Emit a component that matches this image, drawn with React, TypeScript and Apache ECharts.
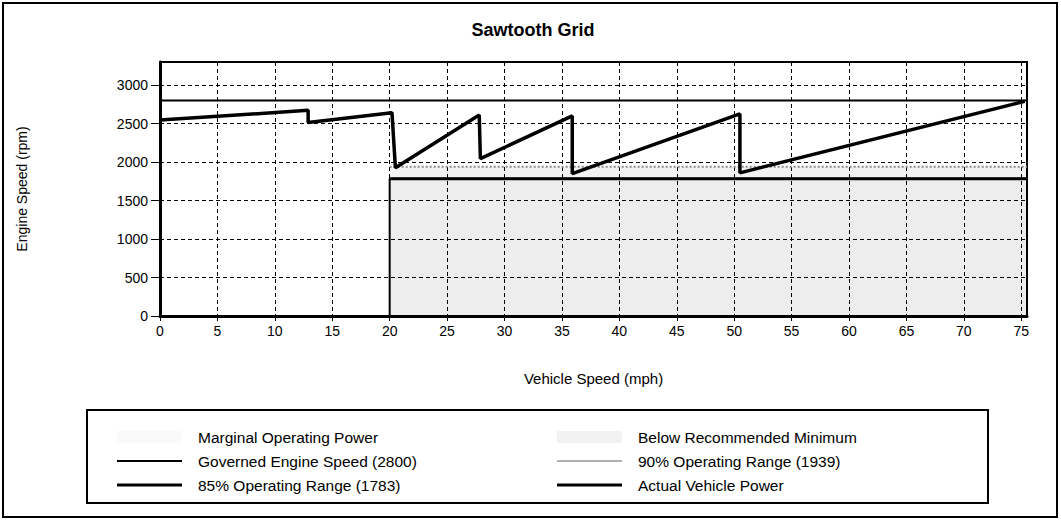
import React, { useEffect, useRef } from "react";
import * as echarts from "echarts";

// Actual vehicle power (sawtooth): vehicle speed (mph) vs engine speed (rpm)
const speedMph = [0, 12.9, 12.9, 20.2, 20.5, 27.8, 27.9, 35.9, 35.9, 50.5, 50.5, 75.3];
const engineRpm = [2545, 2672, 2515, 2642, 1925, 2612, 2045, 2600, 1850, 2625, 1860, 2790];

// Reference levels
const governedRpm = 2800;
const range90Rpm = 1939;
const range85Rpm = 1783;
const rangeStartMph = 20;

// Axis extents / ticks
const speedMin = 0;
const speedMax = 75.5;
const speedStep = 5;
const rpmMin = 0;
const rpmMax = 3300;
const rpmStep = 500;

const legendLeft = [
  "Marginal Operating Power",
  "Governed Engine Speed (2800)",
  "85% Operating Range (1783)",
];
const legendRight = [
  "Below Recommended Minimum",
  "90% Operating Range (1939)",
  "Actual Vehicle Power",
];

const FONT = '"Liberation Sans", Arial, Helvetica, sans-serif';

export default function App() {
  const ref = useRef<HTMLDivElement>(null);

  useEffect(() => {
    if (!ref.current) return;
    const chart = echarts.init(ref.current, null, { renderer: "svg" });

    const actual = speedMph.map((x, i) => [x, engineRpm[i]]);
    const governed = [
      [speedMin, governedRpm],
      [speedMax, governedRpm],
    ];
    const r90 = [
      [rangeStartMph, range90Rpm],
      [speedMax, range90Rpm],
    ];
    const r85 = [
      [rangeStartMph, range85Rpm],
      [speedMax, range85Rpm],
    ];
    const below = [
      [rangeStartMph, rpmMin],
      [rangeStartMph, range85Rpm],
      [speedMax, range85Rpm],
    ];

    // legend icon look for each item
    const iconStyle: Record<string, { h: number; color: string }> = {
      "Marginal Operating Power": { h: 12, color: "rgba(0,0,0,0.02)" },
      "Governed Engine Speed (2800)": { h: 2, color: "#000" },
      "85% Operating Range (1783)": { h: 3, color: "#000" },
      "Below Recommended Minimum": { h: 12, color: "rgba(0,0,0,0.05)" },
      "90% Operating Range (1939)": { h: 2, color: "#b0b0b0" },
      "Actual Vehicle Power": { h: 3, color: "#000" },
    };

    const rowCenters = [437, 461, 485];
    const makeLegend = (name: string, left: number, row: number) => {
      const st = iconStyle[name];
      return {
        orient: "vertical" as const,
        left,
        top: rowCenters[row] - 13,
        itemWidth: 65,
        itemHeight: st.h,
        itemGap: 0,
        selectedMode: false,
        textStyle: {
          fontSize: 15.5,
          color: "#000",
          fontFamily: FONT,
          lineHeight: 16,
          padding: [0, 0, 0, 11],
        },
        data: [{ name, icon: "rect", itemStyle: { color: st.color, borderWidth: 0 } }],
      };
    };

    chart.setOption({
      animation: false,
      backgroundColor: "#fff",
      textStyle: { fontFamily: FONT, color: "#000" },
      title: {
        text: "Sawtooth Grid",
        left: 528,
        textAlign: "center",
        top: 16,
        textStyle: { fontSize: 18, fontWeight: "bold", color: "#000", fontFamily: FONT },
      },
      grid: {
        left: 160,
        right: 34,
        top: 62,
        bottom: 205,
        show: true,
        borderColor: "#000",
        borderWidth: 2,
        backgroundColor: "transparent",
      },
      xAxis: {
        type: "value",
        min: speedMin,
        max: speedMax,
        interval: speedStep,
        name: "Vehicle Speed (mph)",
        nameLocation: "middle",
        nameGap: 55,
        nameTextStyle: { fontSize: 15, color: "#000", fontFamily: FONT },
        axisLine: { show: true, onZero: false, lineStyle: { color: "#000", width: 3 } },
        axisTick: { show: true, length: 5, lineStyle: { color: "#000", width: 1 } },
        axisLabel: {
          fontSize: 14,
          color: "#000",
          margin: 8,
          showMaxLabel: false,
          formatter: (v: number) => (v % speedStep === 0 ? String(v) : ""),
        },
        splitLine: { show: true, lineStyle: { color: "#000", width: 1, type: [4, 3] } },
      },
      yAxis: {
        type: "value",
        min: rpmMin,
        max: rpmMax,
        interval: rpmStep,
        name: "Engine Speed (rpm)",
        nameLocation: "middle",
        nameGap: 131,
        nameTextStyle: { fontSize: 14, color: "#000", fontFamily: FONT },
        axisLine: { show: true, lineStyle: { color: "#000", width: 3 } },
        axisTick: { show: true, length: 9, lineStyle: { color: "#000", width: 1 } },
        axisLabel: {
          fontSize: 14,
          color: "#000",
          margin: 12,
          showMaxLabel: false,
          formatter: (v: number) => (v % rpmStep === 0 ? String(v) : ""),
        },
        splitLine: { show: true, lineStyle: { color: "#000", width: 1, type: [4, 3] } },
      },
      legend: [
        makeLegend(legendLeft[0], 112, 0),
        makeLegend(legendLeft[1], 112, 1),
        makeLegend(legendLeft[2], 112, 2),
        makeLegend(legendRight[0], 552, 0),
        makeLegend(legendRight[1], 552, 1),
        makeLegend(legendRight[2], 552, 2),
      ],
      graphic: [
        {
          type: "rect",
          silent: true,
          z: 100,
          shape: { x: 3, y: 3, width: 1054, height: 514 },
          style: { fill: "none", stroke: "#000", lineWidth: 2 },
        },
        {
          type: "rect",
          silent: true,
          z: 100,
          shape: { x: 87, y: 410, width: 901, height: 93 },
          style: { fill: "none", stroke: "#000", lineWidth: 2 },
        },
      ],
      series: [
        {
          name: "Below Recommended Minimum",
          type: "line",
          data: below,
          symbol: "none",
          color: "#000",
          lineStyle: { color: "#000", width: 2 },
          areaStyle: { color: "rgba(0,0,0,0.10)", origin: "start" },
          z: 1,
        },
        {
          name: "Marginal Operating Power",
          type: "line",
          data: [[rangeStartMph, range90Rpm]],
          symbol: "none",
          color: "#000",
          lineStyle: { width: 0 },
          markArea: {
            silent: true,
            itemStyle: { color: "rgba(0,0,0,0.05)" },
            data: [[{ coord: [rangeStartMph, range85Rpm] }, { coord: [speedMax, range90Rpm] }]],
          },
          z: 1,
        },
        {
          name: "90% Operating Range (1939)",
          type: "line",
          data: r90,
          symbol: "none",
          color: "#8a8a8a",
          lineStyle: { color: "#8a8a8a", width: 2, type: "dotted" },
          z: 2,
        },
        {
          name: "85% Operating Range (1783)",
          type: "line",
          data: r85,
          symbol: "none",
          color: "#000",
          lineStyle: { color: "#000", width: 3 },
          z: 3,
        },
        {
          name: "Governed Engine Speed (2800)",
          type: "line",
          data: governed,
          symbol: "none",
          color: "#000",
          lineStyle: { color: "#000", width: 2 },
          z: 3,
        },
        {
          name: "Actual Vehicle Power",
          type: "line",
          data: actual,
          symbol: "none",
          color: "#000",
          lineStyle: { color: "#000", width: 3.5 },
          z: 4,
        },
      ],
    });

    return () => chart.dispose();
  }, []);

  return (
    <div
      ref={ref}
      style={{ position: "absolute", left: 0, top: 0, width: 1061, height: 521 }}
    />
  );
}
